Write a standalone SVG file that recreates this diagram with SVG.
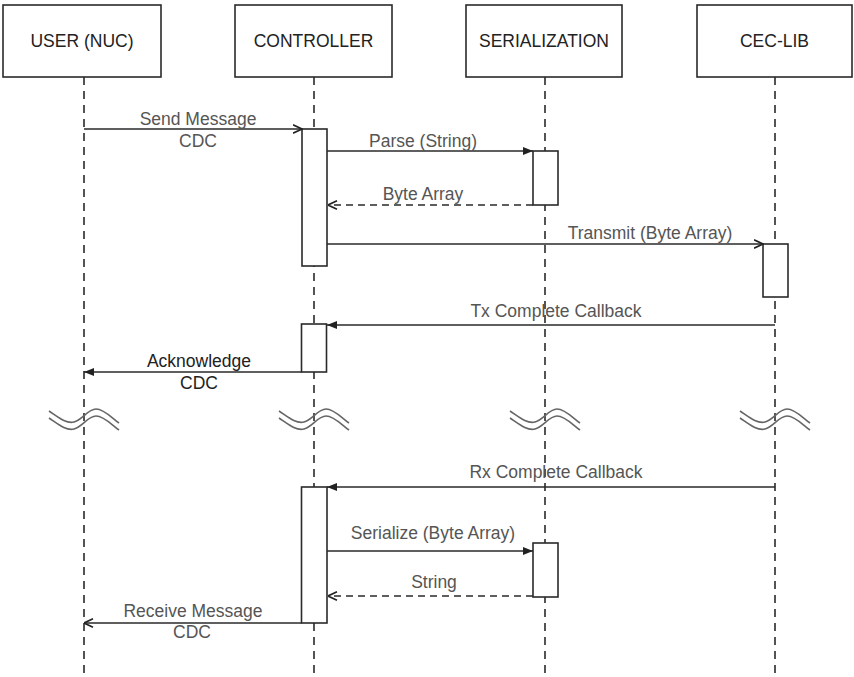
<svg xmlns="http://www.w3.org/2000/svg" width="854" height="677" viewBox="0 0 854 677">
<style>
.box{fill:#fff;stroke:#2a2a2a;stroke-width:1.6}
.life{stroke:#2a2a2a;stroke-width:1.6;stroke-dasharray:8 6;fill:none}
.act{fill:#fff;stroke:#2a2a2a;stroke-width:1.6}
.msg{stroke:#2a2a2a;stroke-width:1.6;fill:none}
.ret{stroke:#2a2a2a;stroke-width:1.6;fill:none;stroke-dasharray:7 5}
.title{font-family:"Liberation Sans",Arial,sans-serif;font-size:17.5px;fill:#222;text-anchor:middle}
.lbl{font-family:"Liberation Sans",Arial,sans-serif;font-size:17.5px;fill:#555;text-anchor:middle}
.lbld{font-family:"Liberation Sans",Arial,sans-serif;font-size:17.5px;fill:#222;text-anchor:middle}
.brk{fill:none;stroke:#666;stroke-width:1.6}
</style>
<defs>
<marker id="filled" viewBox="0 0 10 8" refX="10" refY="4" markerWidth="10" markerHeight="8" markerUnits="userSpaceOnUse" orient="auto"><path d="M0,0 L10,4 L0,8 z" fill="#222"/></marker>
<marker id="open" viewBox="0 0 10 10" refX="9.5" refY="5" markerWidth="10" markerHeight="10" markerUnits="userSpaceOnUse" orient="auto"><path d="M0.5,0.8 L9.5,5 L0.5,9.2" fill="none" stroke="#222" stroke-width="1.6"/></marker>
<path id="wave" d="M-35,411 C-26,417 -18,424 -10,422 C-2,420 4,409 12,409 C20,409 28,418 35,423 M-35,418 C-26,424 -18,431 -10,429 C-2,427 4,416 12,416 C20,416 28,425 35,430"/>
</defs>

<g id="user">
<line class="life" x1="84" y1="77" x2="84" y2="677"/>
<rect class="box" x="3" y="5" width="158" height="72"/>
<text class="title" x="82" y="47">USER (NUC)</text>
</g>
<g id="controller">
<line class="life" x1="314" y1="77" x2="314" y2="677"/>
<rect class="box" x="235" y="5" width="157" height="72"/>
<text class="title" x="313.5" y="47">CONTROLLER</text>
</g>
<g id="serialization">
<line class="life" x1="545" y1="77" x2="545" y2="677"/>
<rect class="box" x="466" y="5" width="156" height="72"/>
<text class="title" x="544" y="47">SERIALIZATION</text>
</g>
<g id="ceclib">
<line class="life" x1="775" y1="77" x2="775" y2="677"/>
<rect class="box" x="697" y="5" width="155" height="72"/>
<text class="title" x="774.5" y="47">CEC-LIB</text>
</g>

<g id="breaks">
<use href="#wave" class="brk" transform="translate(84,0)"/>
<use href="#wave" class="brk" transform="translate(314,0)"/>
<use href="#wave" class="brk" transform="translate(545,0)"/>
<use href="#wave" class="brk" transform="translate(775,0)"/>
</g>

<g id="activations">
<rect id="act-controller-1" class="act" x="302" y="129" width="25" height="137"/>
<rect id="act-serialization-1" class="act" x="533" y="151" width="25" height="54"/>
<rect id="act-ceclib-1" class="act" x="763" y="244" width="25" height="53"/>
<rect id="act-controller-2" class="act" x="301.5" y="324" width="25" height="48"/>
<rect id="act-controller-3" class="act" x="301.5" y="487" width="25.5" height="136"/>
<rect id="act-serialization-2" class="act" x="533" y="543" width="25" height="54"/>
</g>

<g id="connectors">
<line class="msg" x1="84" y1="129" x2="302" y2="129" marker-end="url(#open)"/>
<line class="msg" x1="327" y1="151" x2="533" y2="151" marker-end="url(#filled)"/>
<line class="ret" x1="533" y1="205" x2="328" y2="205" marker-end="url(#open)"/>
<line class="msg" x1="327" y1="244" x2="763" y2="244" marker-end="url(#open)"/>
<line class="msg" x1="775" y1="325" x2="327" y2="325" marker-end="url(#filled)"/>
<line class="msg" x1="301.5" y1="372" x2="84" y2="372" marker-end="url(#filled)"/>
<line class="msg" x1="775" y1="487" x2="327" y2="487" marker-end="url(#filled)"/>
<line class="msg" x1="327" y1="551" x2="533" y2="551" marker-end="url(#filled)"/>
<line class="ret" x1="533" y1="596" x2="328" y2="596" marker-end="url(#open)"/>
<line class="msg" x1="301.5" y1="623" x2="84" y2="623" marker-end="url(#open)"/>
</g>

<g id="labels">
<text class="lbl" x="198" y="125">Send Message</text>
<text class="lbl" x="198" y="147">CDC</text>
<text class="lbl" x="423" y="147">Parse (String)</text>
<text class="lbl" x="423" y="200">Byte Array</text>
<text class="lbl" x="650" y="239">Transmit (Byte Array)</text>
<text class="lbl" x="556" y="317">Tx Complete Callback</text>
<text class="lbld" x="199" y="367">Acknowledge</text>
<text class="lbld" x="199" y="389">CDC</text>
<text class="lbl" x="556" y="478">Rx Complete Callback</text>
<text class="lbl" x="433" y="539">Serialize (Byte Array)</text>
<text class="lbl" x="434" y="588">String</text>
<text class="lbl" x="193" y="617">Receive Message</text>
<text class="lbl" x="192" y="638">CDC</text>
</g>
</svg>
